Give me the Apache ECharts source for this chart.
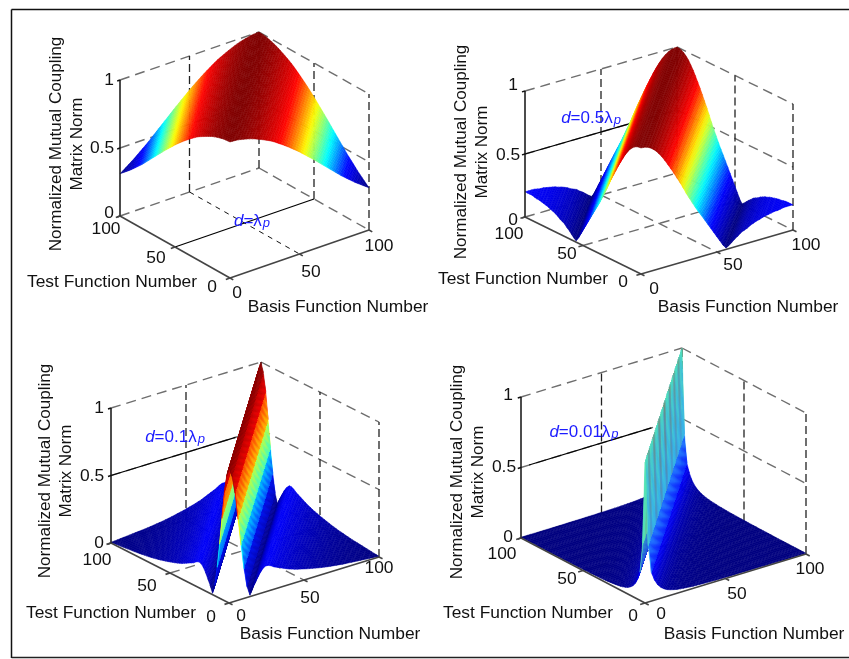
<!DOCTYPE html>
<html>
<head>
<meta charset="utf-8">
<style>html,body{margin:0;padding:0;background:#fff}#c{width:849px;height:659px;filter:blur(0.45px)}</style>
<script src="https://cdn.jsdelivr.net/npm/echarts@6/dist/echarts.min.js"></script>
</head>
<body>
<div id="c"></div>
<script>
// Mutual-coupling norm, by |basis - test| in steps of 2 function numbers.
const profileLambda = [1.00,.999,.997,.995,.990,.985,.980,.974,.967,.959,.950,.941,.931,.921,.911,.900,.887,.873,.859,.845,.830,.815,.799,.783,.767,.750,.732,.714,.696,.678,.660,.641,.622,.603,.584,.565,.546,.527,.508,.489,.470,.453,.436,.419,.402,.385,.370,.355,.340,.325,.310];
const profileHalf = [1.00,.998,.992,.98,.962,.94,.91,.878,.84,.80,.76,.716,.672,.628,.58,.53,.486,.442,.398,.358,.32,.28,.24,.20,.16,.12,.08,.04,.01,.025,.045,.065,.08,.10,.11,.12,.135,.145,.155,.16,.17,.175,.18,.185,.19,.19,.195,.20,.20,.20,.20];
const profileTenth = [1,.93,.8,.6,.4,.22,.08,.01,.06,.1,.14,.17,.19,.19,.18,.165,.155,.145,.135,.125,.115,.108,.10,.094,.088,.082,.076,.071,.066,.061,.056,.052,.048,.044,.041,.038,.035,.032,.029,.027,.025,.023,.021,.019,.017,.015,.013,.011,.009,.007,.005];
const profileHundredth = [1,.40,.20,.14,.10,.075,.058,.046,.038,.032,.027,.024,.021,.019,.017,.015,.014,.013,.012,.011,.010,.010,.009,.009,.008,.008,.008,.007,.007,.007,.007,.006,.006,.006,.006,.006,.006,.005,.005,.005,.005,.005,.005,.005,.005,.005,.005,.005,.005,.005,.005];
// Shading along the ridge of the last panel (0 = pale green, higher = tinted by the hidden red crest).
const ridgeTint = [0,0,0,.35,.45,.3,0,0,0,0,.4,.5,.35,0,0,0,0,.45,.55,.4,0,0,0,0,.45,.6,.4,0,0,0,0,.35,.5,.35,0,0,0,.3,.45,.3,0,0,0,.3,.4,.25,0,0,0,0];
const annotationTexts = ['=\u03BB', '=0.5\u03BB', '=0.1\u03BB', '=0.01\u03BB'];
const numberTicks = ['0','50','100'];
const normTicks = ['0','0.5','1'];
const titleBasis = 'Basis Function Number';
const titleTest = 'Test Function Number';
const titleNorm = 'Normalized Mutual Coupling\nMatrix Norm';

// Layout of the four panels (screen geometry only).
const panels = [
 {profile:profileLambda, O:[230,278], ex:[139,-48], ey:[-110,-62], h:136,
  norm:[[109,213],[102,148],[109,80]], testT:[[212,287],[156,258],[106,229]], basisT:[[237,293],[311,272],[379,246]],
  tTitle:[112,282], bTitle:[338,307], zTitle:[67,144], ann:[252,221], lead:[[0,50,0],[100,50,0]]},
 {profile:profileHalf, O:[641,274], ex:[152,-44], ey:[-116,-57], h:126,
  norm:[[513,220],[508,155],[513,85]], testT:[[623,282],[567,254],[509,234]], basisT:[[654,289],[733,265],[806,245]],
  tTitle:[523,279], bTitle:[748,307], zTitle:[472,152], ann:[591,118], lead:[[0,100,.5],[69,100,.5]]},
 {profile:profileTenth, O:[229,603], ex:[150,-46], ey:[-118,-60], h:135,
  norm:[[99,543],[92,476],[99,408]], testT:[[211,617],[147,586],[97,560]], basisT:[[241,616],[310,598],[379,568]],
  tTitle:[111,613], bTitle:[330,634], zTitle:[56,471], ann:[175,437], lead:[[0,100,.5],[83,100,.5]]},
 {profile:profileHundredth, O:[645,603], ex:[161,-49], ey:[-124,-65], h:141, ridge:true,
  norm:[[508,537],[504,467],[508,395]], testT:[[633,616],[567,579],[502,554]], basisT:[[661,614],[737,594],[810,569]],
  tTitle:[528,613], bTitle:[754,634], zTitle:[468,472], ann:[584,432], lead:[[5,100,.5],[81,100,.5]]}
];
const STEP = 2;
const jet = ['#00007f','#0000ff','#00ffff','#ffff00','#ff0000','#7f0000'];
const ridgeGreen = '#55e3b4', ridgeBrown = '#a03a2a', ridgeBlue = '#2a9cff';

function projector(p){
  return (x,y,z)=>[x*p.ex[0]/100+y*p.ey[0]/100, -(x*p.ex[1]/100+y*p.ey[1]/100)+z*p.h];
}
const grids=[],xAxes=[],yAxes=[],series=[],graphics=[];
const FONT='17.4px "Liberation Sans", Arial, sans-serif';
const FONT_Z='17.1px "Liberation Sans", Arial, sans-serif';
function label(t,pos,rot,font){
  graphics.push({type:'text',x:pos[0],y:pos[1],rotation:rot||0,silent:true,z:20,
    style:{text:t,font:font||FONT,fill:'#111',textAlign:'center',textVerticalAlign:'middle',lineHeight:21}});
}
panels.forEach((p,idx)=>{
  const proj=projector(p);
  const uMin=p.ey[0],uMax=p.ex[0],vMax=p.h-(p.ex[1]+p.ey[1]);
  grids.push({left:p.O[0]+uMin,top:p.O[1]-vMax,width:uMax-uMin,height:vMax,show:false});
  xAxes.push({type:'value',gridIndex:idx,min:uMin,max:uMax,show:false});
  yAxes.push({type:'value',gridIndex:idx,min:0,max:vMax,show:false});
  const f=p.profile, n=f.length-1;
  const vmin=Math.min(...f), vmax=Math.max(...f);
  const level=v=>(v-vmin)/(vmax-vmin);

  const seg=[];
  const gray={stroke:'#6e6e6e',lineWidth:1.4,lineDash:[10,6]};
  const blk={stroke:'#222',lineWidth:1.3,lineDash:[8,4]};
  const thin={stroke:'#111',lineWidth:1,lineDash:[5,5]};
  [0,.5,1].forEach(z=>{
    seg.push([0,100,z,100,100,z,gray],[100,100,z,100,0,z,gray]);
  });
  [[50,100],[100,100],[100,50],[100,0]].forEach(c=>seg.push([c[0],c[1],0,c[0],c[1],1,blk]));
  if(idx===0) seg.push([50,100,0,50,0,0,thin]);
  else seg.push([50,100,0,50,0,0,gray],[0,50,0,100,50,0,gray]);
  seg.push([...p.lead[0],...p.lead[1],{stroke:'#000',lineWidth:1.2}]);
  const lineSeries=(list,z)=>({type:'custom',xAxisIndex:idx,yAxisIndex:idx,silent:true,z,animation:false,
    data:list.map((s,i)=>[i]),clip:false,
    renderItem:(params,api)=>{
      const s=list[params.dataIndex];
      const a=api.coord(proj(s[0],s[1],s[2])),b=api.coord(proj(s[3],s[4],s[5]));
      return {type:'line',shape:{x1:a[0],y1:a[1],x2:b[0],y2:b[1]},style:Object.assign({fill:null},s[6])};
    }});
  series.push(lineSeries(seg,2));

  const cells=[];
  for(let i=n-1;i>=0;i--) for(let j=n-1;j>=0;j--) cells.push([i,j]);
  series.push({type:'custom',xAxisIndex:idx,yAxisIndex:idx,silent:true,z:3,animation:false,progressive:0,clip:false,
    data:cells,
    renderItem:(params,api)=>{
      const i=api.value(0),j=api.value(1);
      const corner=(a,b)=>api.coord(proj(a*STEP,b*STEP,f[Math.abs(a-b)]));
      const dist=Math.abs(i-j);
      let col=echarts.color.lerp(level(f[dist]),jet);
      if(p.ridge){
        if(dist===0) col=echarts.color.lerp(ridgeTint[i],[ridgeGreen,ridgeBrown]);
        else if(dist===1 && j>i) col=ridgeGreen;
        else if(dist===1) col=ridgeBlue;
      }
      return {type:'polygon',shape:{points:[corner(i,j),corner(i+1,j),corner(i+1,j+1),corner(i,j+1)]},
        style:{fill:col,stroke:col,lineWidth:.5}};
    }});

  const ax=[];
  const solid={stroke:'#111',lineWidth:1.5};
  const soft={stroke:'#444',lineWidth:1.6};
  ax.push([0,100,0,0,100,1,solid],[0,100,0,0,0,0,soft],[0,0,0,100,0,0,soft]);
  [0,.5,1].forEach(z=>ax.push([-2,100,z,0,100,z,solid]));
  [0,50,100].forEach(v=>{ax.push([-3,v,0,0,v,0,soft],[v,-3,0,v,0,0,soft]);});
  series.push(lineSeries(ax,4));

  numberTicks.forEach((t,k)=>{label(t,p.testT[k]);label(t,p.basisT[k]);});
  normTicks.forEach((t,k)=>label(t,p.norm[k]));
  label(titleTest,p.tTitle);
  label(titleBasis,p.bTitle);
  label(titleNorm,p.zTitle,Math.PI/2,FONT_Z);
  graphics.push({type:'text',x:p.ann[0],y:p.ann[1],silent:true,z:21,
    style:{text:'{i|d}{t|'+annotationTexts[idx]+'}{s|p}',textAlign:'center',textVerticalAlign:'middle',
      rich:{i:{font:'italic 17px "Liberation Sans",Arial',fill:'#1c1cff'},
            t:{font:'17px "Liberation Sans",Arial',fill:'#1c1cff'},
            s:{font:'italic 13px "Liberation Sans",Arial',fill:'#1c1cff',padding:[4,0,0,1]}}}});
});
graphics.push({type:'line',silent:true,shape:{x1:11.5,y1:9.5,x2:849,y2:9.5},style:{stroke:'#111',lineWidth:1.5}});
graphics.push({type:'line',silent:true,shape:{x1:11.5,y1:9.5,x2:11.5,y2:658},style:{stroke:'#111',lineWidth:1.5}});
graphics.push({type:'line',silent:true,shape:{x1:11.5,y1:657.5,x2:849,y2:657.5},style:{stroke:'#222',lineWidth:1.5}});

const chart=echarts.init(document.getElementById('c'),null,{renderer:'canvas'});
chart.setOption({animation:false,backgroundColor:'#fff',tooltip:{show:false},
  grid:grids,xAxis:xAxes,yAxis:yAxes,series,graphic:{elements:graphics}});
</script>
</body>
</html>
